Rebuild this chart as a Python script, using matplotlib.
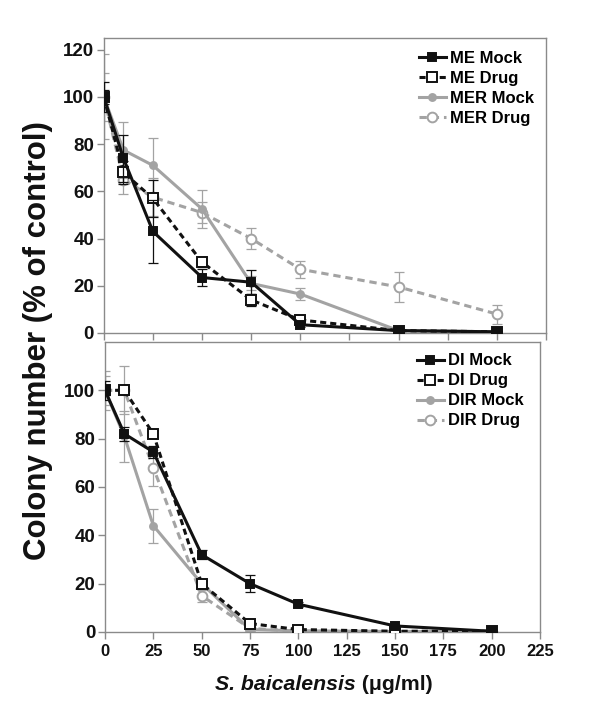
import matplotlib
matplotlib.use("Agg")
import matplotlib.pyplot as plt

plt.rcParams['font.family'] = ['Liberation Sans', 'DejaVu Sans']
plt.rcParams['font.weight'] = 'bold'

dose = [0, 10, 25, 50, 75, 100, 150, 200]
x_ticks = [0, 25, 50, 75, 100, 125, 150, 175, 200, 225]

# Top panel (ME / MER)
me_mock = [100, 74, 43, 23.5, 21.5, 3.5, 1, 0.5]
me_mock_err = [6.5, 10, 13.5, 3.5, 5, 1, 0.5, 0.5]
me_drug = [100, 68, 57, 30, 14, 5.5, 1, 0.5]
me_drug_err = [3, 5, 8, 2, 2.5, 1, 0.5, 0.5]
mer_mock = [100, 77.5, 71, 52.5, 21, 16.5, 1, 0.5]
mer_mock_err = [10, 12, 11.5, 8, 3, 2.5, 0.5, 0.5]
mer_drug = [100, 65, 57.5, 51, 40, 27, 19.5, 8]
mer_drug_err = [18, 6, 8, 4.5, 4.5, 3.5, 6.5, 4]

# Bottom panel (DI / DIR)
di_mock = [100, 82, 74.5, 32, 20, 11.5, 2.5, 0.3]
di_mock_err = [4, 3, 2.5, 2, 3.5, 1, 0.5, 0.3]
di_drug = [100, 100, 82, 20, 3.5, 1, 0.3, 0.3]
di_drug_err = [2, 1.5, 1.5, 1, 0.5, 0.3, 0.2, 0.2]
dir_mock = [100, 81, 44, 20, 1, 0.5, 0.2, 0.2]
dir_mock_err = [8, 10.5, 7, 1.5, 0.5, 0.3, 0.2, 0.2]
dir_drug = [100, 100, 68, 15, 1.5, 0.3, 0.2, 0.2]
dir_drug_err = [6, 10, 7.5, 2.5, 0.5, 0.2, 0.2, 0.2]

top_labels = ['ME Mock', 'ME Drug', 'MER Mock', 'MER Drug']
bottom_labels = ['DI Mock', 'DI Drug', 'DIR Mock', 'DIR Drug']

BLACK = '#111111'
GRAY = '#a3a3a3'
SPINE = '#8a8a8a'

fig = plt.figure(figsize=(6.0, 7.15), dpi=100)
ax1 = fig.add_axes([0.173, 0.5343, 0.737, 0.4126])
ax2 = fig.add_axes([0.175, 0.1161, 0.725, 0.4056])


def draw(ax, series, labels):
    styles = [
        dict(color=BLACK, ls='-', marker='s', mfc=BLACK, mec=BLACK, ms=6, lw=2.2, z=4),
        dict(color=BLACK, ls=(0, (2.0, 1.3)), marker='s', mfc='white', mec=BLACK, ms=7, lw=2.2, z=3),
        dict(color=GRAY, ls='-', marker='o', mfc=GRAY, mec=GRAY, ms=5, lw=2.2, z=2),
        dict(color=GRAY, ls=(0, (2.4, 1.6)), marker='o', mfc='white', mec=GRAY, ms=7, lw=2.2, z=1),
    ]
    handles = []
    for (y, e), lab, st in zip(series, labels, styles):
        ax.errorbar(dose, y, yerr=e, fmt='none', ecolor=st['color'], elinewidth=0.9,
                    capsize=3.5, capthick=0.9, zorder=st['z'])
        h, = ax.plot(dose, y, color=st['color'], ls=st['ls'], lw=st['lw'], marker=st['marker'],
                     mfc=st['mfc'], mec=st['mec'], mew=1.4, ms=st['ms'], zorder=st['z'] + 0.5,
                     label=lab)
        handles.append(h)
    return handles


h1 = draw(ax1, [(me_mock, me_mock_err), (me_drug, me_drug_err),
                (mer_mock, mer_mock_err), (mer_drug, mer_drug_err)], top_labels)
h2 = draw(ax2, [(di_mock, di_mock_err), (di_drug, di_drug_err),
                (dir_mock, dir_mock_err), (dir_drug, dir_drug_err)], bottom_labels)

ax1.set_ylim(0, 125)
ax1.set_yticks([0, 20, 40, 60, 80, 100, 120])
ax2.set_ylim(0, 120)
ax2.set_yticks([0, 20, 40, 60, 80, 100])

for ax in (ax1, ax2):
    ax.set_xlim(0, 225)
    ax.set_xticks(x_ticks)
    for s in ax.spines.values():
        s.set_color(SPINE)
        s.set_linewidth(1.0)
    ax.tick_params(axis='both', direction='out', length=5, width=1.0, color=SPINE,
                   labelcolor='#111111')
    ax.tick_params(axis='y', labelsize=13.5, pad=2)
    ax.tick_params(axis='x', labelsize=12)
    for t in ax.get_yticklabels() + ax.get_xticklabels():
        t.set_fontweight('bold')

ax1.tick_params(axis='x', labelbottom=False)

leg_kw = dict(frameon=False, prop={'weight': 'bold', 'size': 12}, handlelength=1.6,
              handletextpad=0.25, labelspacing=0.3, borderaxespad=0.2)
ax1.legend(handles=h1, loc='upper right', bbox_to_anchor=(0.995, 0.99), **leg_kw)
ax2.legend(handles=h2, loc='upper right', bbox_to_anchor=(0.985, 0.995), **leg_kw)

fig.text(0.063, 0.524, 'Colony number (% of control)', rotation=90, ha='center',
         va='center', fontsize=22.5, fontweight='bold', color='#111111')

# x label with italic species name
fig.canvas.draw()
r = fig.canvas.get_renderer()
t1 = fig.text(0, 0.042, 'S. baicalensis', fontsize=15.3, fontweight='bold', style='italic',
              ha='left', va='center', color='#111111')
t2 = fig.text(0, 0.042, ' (\u03bcg/ml)', fontsize=15.3, fontweight='bold',
              ha='left', va='center', color='#111111')
w1 = t1.get_window_extent(r).width
w2 = t2.get_window_extent(r).width
cx = 0.54 * fig.bbox.width
x0 = cx - (w1 + w2) / 2
t1.set_x(x0 / fig.bbox.width)
t2.set_x((x0 + w1) / fig.bbox.width)

fig.savefig('out.png', dpi=100, facecolor='white')
